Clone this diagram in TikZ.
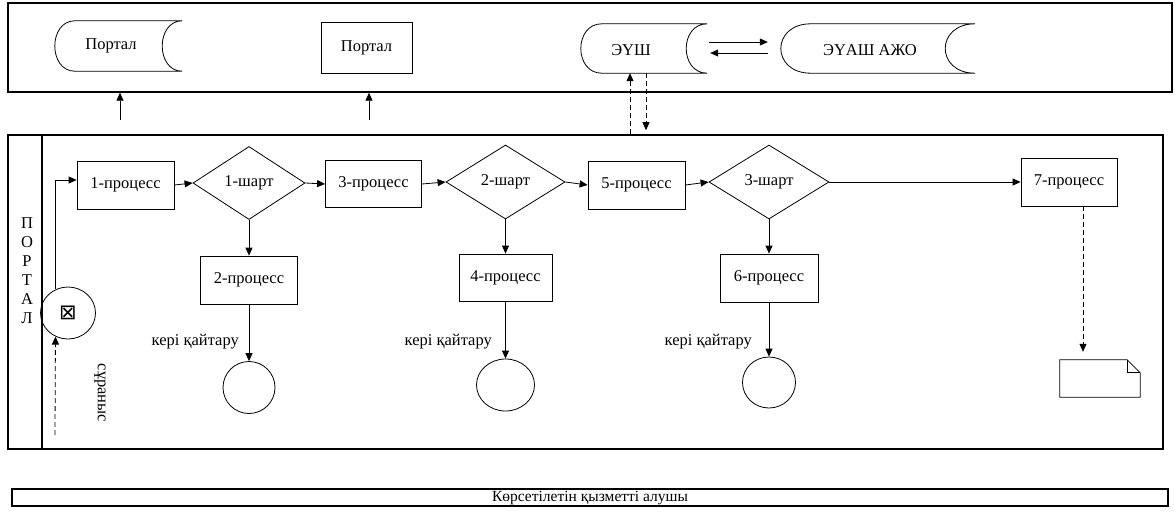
\documentclass[tikz,border=0pt]{standalone}
\usepackage{fontspec}
\setmainfont{Liberation Serif}
\newfontfamily\symfont{DejaVu Sans}
\usetikzlibrary{shapes.geometric,arrows.meta,calc}
\newcommand\stdata[2]{%
  \draw[sline] ($(#1.north west)+(#2,0)$) -- (#1.north east)
    .. controls ($(#1.north east)+(-1.333*#2,0)$) and ($(#1.south east)+(-1.333*#2,0)$) .. (#1.south east)
    -- ($(#1.south west)+(#2,0)$)
    .. controls ($(#1.south west)+(-0.333*#2,0)$) and ($(#1.north west)+(-0.333*#2,0)$) .. cycle;}
\begin{document}
\begin{tikzpicture}[x=1pt,y=-1pt,
  font=\fontsize{16.5}{18}\selectfont,
  lane/.style={draw, line width=1.4pt},
  sline/.style={draw, line width=0.8pt},
  proc/.style={draw, line width=0.8pt, inner sep=0pt, minimum width=97pt, minimum height=48pt},
  cond/.style={draw, diamond, line width=0.8pt, inner sep=0pt, minimum width=116pt, minimum height=74pt},
  endc/.style={draw, circle, line width=0.8pt, minimum size=52pt, inner sep=0pt},
  arr/.style={-{Triangle[length=8pt,width=7pt]}, line width=0.8pt},
  darr/.style={arr, dash pattern=on 5pt off 3pt},
  ghost/.style={inner sep=0pt, draw=none},
  lbl/.style={inner sep=0pt}]
\useasboundingbox (0,0) rectangle (1175,528);
% lanes
\node[ghost, lane, minimum width=1164pt, minimum height=89pt] (topl) at (590,47.5) {};
\node[ghost, lane, minimum width=1155pt, minimum height=314pt] (midl) at (585.5,292) {};
\draw[lane] (42,135) -- (42,449);
\node[lbl, align=center, font=\fontsize{16.5}{19}\selectfont] (portv) at (27,271) {П\\О\\Р\\Т\\А\\Л};
\node[ghost, lane, line width=1.1pt, minimum width=1156pt, minimum height=17pt] (botl) at (590,497.5) {};
\node[lbl, font=\fontsize{15.5}{17}\selectfont] (botlt) at (590,498) {Көрсетілетін қызметті алушы};
% top lane shapes
\node[ghost, minimum width=127pt, minimum height=50pt] (p1b) at (118.5,46) {};
\stdata{p1b}{20}
\node[lbl] (p1) at (111,46) {Портал};
\node[proc, minimum width=91pt, minimum height=51pt] (p2) at (366.5,47.5) {Портал};
\node[ghost, minimum width=126pt, minimum height=49pt] (eb) at (644,48.5) {};
\stdata{eb}{21}
\node[lbl] (esh) at (631,50) {ЭҮШ};
\node[ghost, minimum width=194pt, minimum height=49pt] (ab) at (878,48.5) {};
\stdata{ab}{30}
\node[lbl] (azh) at (870,50) {ЭҮАШ АЖО};
\draw[arr] ($(eb.east)+(2,-6.5)$) -- ($(ab.west)+(-13,-6.5)$);
\draw[arr] ($(ab.west)+(-13,4.5)$) -- ($(eb.east)+(3,4.5)$);
% arrows between lanes
\coordinate (u1) at (120,120);
\coordinate (u2) at (369,120);
\draw[arr] (u1) -- (u1 |- topl.south);
\draw[arr] (u2) -- (u2 |- topl.south);
\coordinate (eup) at ($(eb.south)+(-14,0)$);
\coordinate (edn) at ($(eb.south)+(2,0)$);
\draw[darr] (eup |- midl.north) -- (eup);
\draw[darr] (edn) -- ($(edn)+(0,57)$);
% start
\node[endc, minimum width=55pt, minimum height=52pt, ellipse] (start) at (68,313) {\symfont\fontsize{21}{21}\selectfont ⊠};
\coordinate (req) at (55,435);
\draw[darr] (req) -- (start.242);
\node[lbl, rotate=-90] (sur) at (100,393) {сұраныс};
% main row
\node[proc] (pr1) at (125.5,185) {1-процесс};
\node[cond, minimum width=112pt, minimum height=73pt] (d1) at (249,183) {1-шарт};
\node[proc, minimum width=96pt, minimum height=47pt] (pr3) at (373.5,184) {3-процесс};
\node[cond, minimum width=119pt] (d2) at (505.5,182) {2-шарт};
\node[proc] (pr5) at (636.5,185) {5-процесс};
\node[cond, minimum width=120pt] (d3) at (769,182) {3-шарт};
\node[proc, minimum width=96pt] (pr7) at (1069,182) {7-процесс};
\draw[arr] (start.118) |- ([yshift=5pt]pr1.west);
\draw[arr] (pr1.east) -- (d1.west);
\draw[arr] (d1.east) -- (pr3.west);
\draw[arr] (pr3.east) -- (d2.west);
\draw[arr] (d2.east) -- (pr5.west);
\draw[arr] (pr5.east) -- (d3.west);
\draw[arr] (d3.east) -- (pr7.west);
% branches
\node[proc] (pr2) at (249,280) {2-процесс};
\node[proc, minimum width=93pt, minimum height=47pt] (pr4) at (505.5,277.5) {4-процесс};
\node[proc, minimum width=98pt] (pr6) at (769,278) {6-процесс};
\node[endc] (c2) at (249,387.5) {};
\node[endc, ellipse, minimum width=58pt, minimum height=52pt] (c4) at (505.5,385) {};
\node[endc, ellipse, minimum width=53pt, minimum height=51pt] (c6) at (769,382.5) {};
\draw[arr] (d1.south) -- (pr2.north);
\draw[arr] (d2.south) -- (pr4.north);
\draw[arr] (d3.south) -- (pr6.north);
\draw[arr] (pr2.south) -- (c2.north);
\draw[arr] (pr4.south) -- (c4.north);
\draw[arr] (pr6.south) -- (c6.north);
\node[lbl, anchor=east] (k1) at (239,342) {кері қайтару};
\node[lbl, anchor=east] (k2) at (492,342) {кері қайтару};
\node[lbl, anchor=east] (k3) at (752,342) {кері қайтару};
% document
\node[ghost, minimum width=80pt, minimum height=37pt] (doc) at (1100,378.5) {};
\draw[sline] (doc.north west) -- ($(doc.north east)+(-13,0)$) -- ($(doc.north east)+(0,13)$) -- (doc.south east) -- (doc.south west) -- cycle;
\draw[sline] ($(doc.north east)+(-13,0)$) -- ($(doc.north east)+(-13,13)$) -- ($(doc.north east)+(0,13)$);
\draw[darr] ([xshift=14pt]pr7.south) -- ([xshift=14pt]pr7.south |- doc.north) [shorten >=8pt];
\end{tikzpicture}
\end{document}
